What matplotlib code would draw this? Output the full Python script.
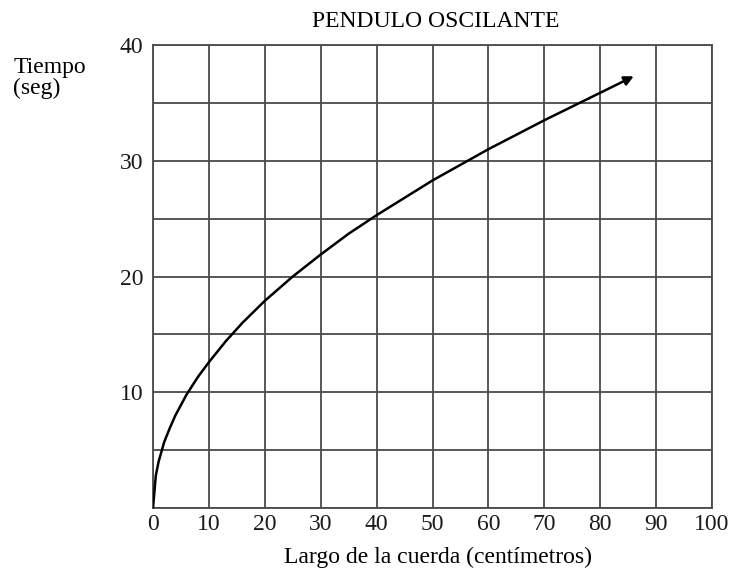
import matplotlib.pyplot as plt
import numpy as np

# largo de la cuerda (cm) y tiempo (seg)
largo = [0, 0.5, 1, 2, 3, 4, 6, 8, 10, 13, 16, 20, 25, 30, 35, 40, 50, 60, 70, 78, 86]
tiempo = [0, 2.8, 4.0, 5.7, 6.9, 8.0, 9.8, 11.3, 12.6, 14.4, 16.0, 17.9, 20.0, 21.9, 23.7, 25.3, 28.3, 31.0, 33.5, 35.4, 37.3]

x_ticks = [0, 10, 20, 30, 40, 50, 60, 70, 80, 90, 100]
y_ticks = [10, 20, 30, 40]

plt.rcParams["font.family"] = ["Liberation Serif", "DejaVu Serif"]

fig = plt.figure(figsize=(7.29, 5.7), dpi=100)
ax = fig.add_axes([0.2099, 0.1088, 0.7668, 0.8122])

grid_color = "#4a4a4a"
for gx in range(0, 101, 10):
    ax.axvline(gx, color=grid_color, lw=1.3, zorder=1)
for gy in range(0, 41, 5):
    ax.axhline(gy, color=grid_color, lw=1.3, zorder=1)

ax.plot(largo[:-1], tiempo[:-1], color="black", lw=1.8, zorder=3)
ax.annotate("", xy=(largo[-1], tiempo[-1]), xytext=(largo[-2], tiempo[-2]),
            arrowprops=dict(arrowstyle="-|>", color="black", lw=1.8,
                            mutation_scale=14, shrinkA=0, shrinkB=0),
            zorder=3)

ax.set_xlim(0, 100)
ax.set_ylim(0, 40)
ax.set_xticks(x_ticks)
ax.set_yticks(y_ticks)
ax.tick_params(length=0, labelsize=17, colors="#1a1a1a")
ax.tick_params(axis="x", pad=4)
ax.tick_params(axis="y", pad=7)
for s in ax.spines.values():
    s.set_color(grid_color)
    s.set_linewidth(1.3)

fig.text(0.598, 0.9526, "PENDULO OSCILANTE", ha="center", va="baseline", fontsize=17)
fig.text(0.018, 0.8719, "Tiempo", ha="left", va="baseline", fontsize=17)
fig.text(0.018, 0.835, "(seg)", ha="left", va="baseline", fontsize=17)
fig.text(0.6015, 0.0123, "Largo de la cuerda (centímetros)", ha="center", va="baseline", fontsize=17)

fig.savefig("out.png", dpi=100)
